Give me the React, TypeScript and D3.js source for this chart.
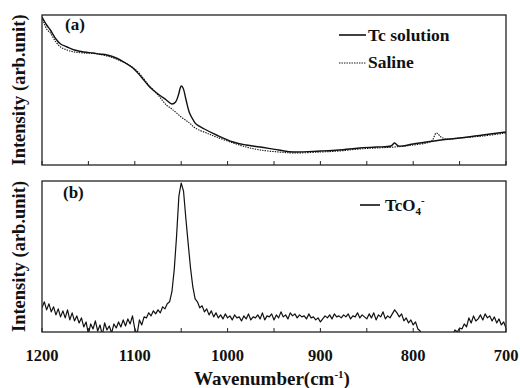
import React from "react";
import * as d3 from "d3";

// ---- Panel (a): Tc solution vs Saline (wavenumber, intensity arb.) ----
const tcWave = [1200, 1195, 1191, 1185, 1180, 1173, 1165, 1155, 1145, 1138, 1130, 1120, 1110, 1102, 1093, 1084, 1075, 1066, 1060, 1056, 1053, 1050, 1048, 1045, 1041, 1037, 1034, 1025, 1012, 994, 980, 965, 945, 929, 900, 880, 858, 840, 824, 820, 816, 800, 786, 770, 750, 725, 700];
const tcInt = [148, 140, 135, 126, 121, 118, 115, 113, 112, 111, 110, 107, 102, 97, 88, 78, 71, 65, 61, 63, 70, 79, 77, 66, 52, 45, 41, 36, 30, 23, 20, 18, 15, 13, 14, 15, 17, 18, 19, 22, 19, 21, 23, 25, 27, 30, 33];

const salWave = [1200, 1195, 1191, 1185, 1180, 1173, 1165, 1155, 1140, 1120, 1100, 1085, 1075, 1066, 1060, 1050, 1041, 1035, 1020, 1012, 994, 980, 965, 945, 929, 900, 880, 858, 840, 820, 800, 786, 780, 775, 770, 765, 750, 725, 700];
const salInt = [148, 136, 132, 123, 118, 115, 113, 112, 111, 106, 96, 80, 70, 60, 56, 48, 42, 37, 31, 28, 22, 18, 15, 13, 12, 13, 14, 16, 17, 18, 20, 22, 24, 32, 28, 26, 27, 29, 32];

// ---- Panel (b): TcO4- spectrum ----
const tco4Wave = [
  1200, 1197.5, 1195, 1192.5, 1190, 1187.5, 1185, 1182.5, 1180, 1177.5, 1175, 1172.5, 1170, 1167.5, 1165, 1162.5, 1160,
  1157.5, 1155, 1152.5, 1150, 1147.5, 1145, 1142.5, 1140, 1137.5, 1135, 1132.5, 1130, 1127.5, 1125, 1122.5, 1120,
  1117.5, 1115, 1112.5, 1110, 1107.5, 1105, 1102.5, 1100, 1097.5, 1095, 1092.5, 1090, 1087.5, 1085, 1082.5, 1080,
  1077.5, 1075, 1072.5, 1070, 1067.5, 1065, 1062.5, 1060, 1057.5, 1055, 1052.5, 1050, 1047.5, 1045, 1042.5, 1040,
  1037.5, 1035, 1032.5, 1030, 1027.5, 1025, 1022.5, 1020, 1017.5, 1015, 1012.5, 1010, 1007.5, 1005, 1002.5, 1000,
  997.5, 995, 992.5, 990, 987.5, 985, 982.5, 980, 977.5, 975, 972.5, 970, 967.5, 965, 962.5, 960,
  957.5, 955, 952.5, 950, 947.5, 945, 942.5, 940, 937.5, 935, 932.5, 930, 927.5, 925, 922.5, 920,
  917.5, 915, 912.5, 910, 907.5, 905, 902.5, 900, 897.5, 895, 892.5, 890, 887.5, 885, 882.5, 880,
  877.5, 875, 872.5, 870, 867.5, 865, 862.5, 860, 857.5, 855, 852.5, 850, 847.5, 845, 842.5, 840,
  837.5, 835, 832.5, 830, 827.5, 825, 822.5, 820, 817.5, 815, 812.5, 810, 807.5, 805, 802.5, 800,
  797.5, 795, 792.5, 790, 787.5, 785, 770, 760, 757.5, 755, 752.5, 750, 747.5, 745, 742.5, 740,
  737.5, 735, 732.5, 730, 727.5, 725, 722.5, 720, 717.5, 715, 712.5, 710, 707.5, 705, 702.5, 700,
];
const tco4Int = [
  24, 30, 22, 28, 20, 25, 17, 23, 15, 21, 14, 22, 12, 19, 11, 16, 9,
  14, 5, 10, -2, 8, 3, 11, 1, 7, -3, 9, 2, 6, -1, 8, 4,
  10, 5, 12, 6, 13, 8, 16, 3, -2, 12, 7, 15, 14, 19, 16, 21,
  18, 22, 19, 25, 23, 28, 30, 40, 62, 95, 135, 148, 140, 113, 88, 64,
  45, 33, 30, 24, 26, 20, 23, 17, 21, 15, 19, 14, 17, 13, 18, 14,
  16, 12, 17, 14, 15, 11, 16, 13, 18, 12, 15, 14, 17, 13, 19, 12,
  16, 15, 18, 12, 17, 14, 20, 15, 17, 13, 19, 16, 18, 14, 17, 15,
  16, 13, 18, 14, 15, 12, 14, 10, 13, 16, 14, 17, 13, 18, 15, 16,
  14, 17, 15, 18, 13, 16, 15, 19, 14, 17, 15, 13, 18, 14, 19, 12,
  17, 15, 20, 13, 16, 14, 18, 22, 19, 15, 18, 11, 14, 9, 12, 7,
  10, 3, 1, -4, -6, -8, -10, -8, -3, 2, 0, 4, 3, 8, 5, 14,
  9, 16, 11, 13, 17, 12, 18, 14, 16, 11, 15, 9, 13, 7, 10, 4,
];

const xTicks = [1200, 1100, 1000, 900, 800, 700];
const minorTicks = [1200, 1150, 1100, 1050, 1000, 950, 900, 850, 800, 750, 700];

const FONT = "Liberation Serif, Times New Roman, DejaVu Serif, serif";

export default function App() {
  const left = 42, right = 506;
  const topA = 15, botA = 165;
  const topB = 181, botB = 332;

  const x = d3.scaleLinear().domain([1200, 700]).range([left, right]);
  const yA = d3.scaleLinear().domain([0, 150]).range([botA, topA]);
  const yB = d3.scaleLinear().domain([0, 150]).range([botB, topB]);

  const tcData = tcWave.map((w, i) => [w, tcInt[i]] as [number, number]);
  const salData = salWave.map((w, i) => [w, salInt[i]] as [number, number]);
  const bData = tco4Wave.map((w, i) => [w, tco4Int[i]] as [number, number]);

  const lineA = d3
    .line<[number, number]>()
    .x((d) => x(d[0]))
    .y((d) => yA(d[1]))
    .curve(d3.curveCatmullRom);
  const lineB = d3
    .line<[number, number]>()
    .x((d) => x(d[0]))
    .y((d) => yB(d[1]));

  const frame = "#222";
  const ts: React.CSSProperties = { fontFamily: FONT, fontWeight: 700 };

  return (
    <svg
      width={520}
      height={388}
      style={{ position: "absolute", left: 0, top: 0, background: "#fff", fontFamily: FONT, fontWeight: 700 }}
    >
      <defs>
        <clipPath id="clipA">
          <rect x={left} y={topA} width={right - left} height={botA - topA} />
        </clipPath>
        <clipPath id="clipB">
          <rect x={left} y={topB} width={right - left} height={botB - topB} />
        </clipPath>
      </defs>

      {/* Panel (a) */}
      <g clipPath="url(#clipA)">
        <path d={lineA(salData) || ""} fill="none" stroke="#111" strokeWidth={1.1} strokeDasharray="1.4,1.1" />
        <path d={lineA(tcData) || ""} fill="none" stroke="#111" strokeWidth={1.4} />
      </g>
      <rect x={left} y={topA} width={right - left} height={botA - topA} fill="none" stroke={frame} strokeWidth={1.3} />
      {minorTicks.map((t) => (
        <line key={"ta" + t} x1={x(t)} x2={x(t)} y1={botA} y2={botA - 4} stroke={frame} strokeWidth={1} />
      ))}
      <text x={65} y={30} fontSize={17} fill="#111" style={ts}>(a)</text>
      <line x1={339} x2={366} y1={35} y2={35} stroke="#111" strokeWidth={1.6} />
      <text x={368} y={41} fontSize={17.5} fill="#111" style={ts}>Tc solution</text>
      <line x1={339} x2={366} y1={63} y2={63} stroke="#111" strokeWidth={1.1} strokeDasharray="1.4,1.1" />
      <text x={368} y={68} fontSize={17.5} fill="#111" style={ts}>Saline</text>

      {/* Panel (b) */}
      <g clipPath="url(#clipB)">
        <path d={lineB(bData) || ""} fill="none" stroke="#111" strokeWidth={1.2} strokeLinejoin="round" />
      </g>
      <rect x={left} y={topB} width={right - left} height={botB - topB} fill="none" stroke={frame} strokeWidth={1.3} />
      {minorTicks.map((t) => (
        <line key={"tb" + t} x1={x(t)} x2={x(t)} y1={botB} y2={botB - 4} stroke={frame} strokeWidth={1} />
      ))}
      <text x={63} y={198} fontSize={17} fill="#111" style={ts}>(b)</text>
      <line x1={360} x2={380} y1={205} y2={205} stroke="#111" strokeWidth={1.6} />
      <text x={385} y={211} fontSize={17} fill="#111" style={ts}>
        TcO
        <tspan fontSize={11} dy={4}>4</tspan>
        <tspan fontSize={11} dy={-11}>-</tspan>
      </text>

      {/* X tick labels */}
      {xTicks.map((t) => (
        <text key={"l" + t} x={x(t)} y={361} fontSize={16.5} textAnchor="middle" fill="#111" style={ts}>
          {t}
        </text>
      ))}
      <text x={272} y={385} fontSize={19} textAnchor="middle" fill="#111" style={ts}>
        Wavenumber(cm<tspan fontSize={11} dy={-7}>-1</tspan>
        <tspan dy={7}>)</tspan>
      </text>

      {/* Y labels */}
      <text transform={`translate(25,${(topA + botA) / 2}) rotate(-90)`} fontSize={18.5} textAnchor="middle" fill="#111" style={ts}>
        Intensity (arb.unit)
      </text>
      <text transform={`translate(25,${(topB + botB) / 2}) rotate(-90)`} fontSize={18.5} textAnchor="middle" fill="#111" style={ts}>
        Intensity (arb.unit)
      </text>
    </svg>
  );
}
